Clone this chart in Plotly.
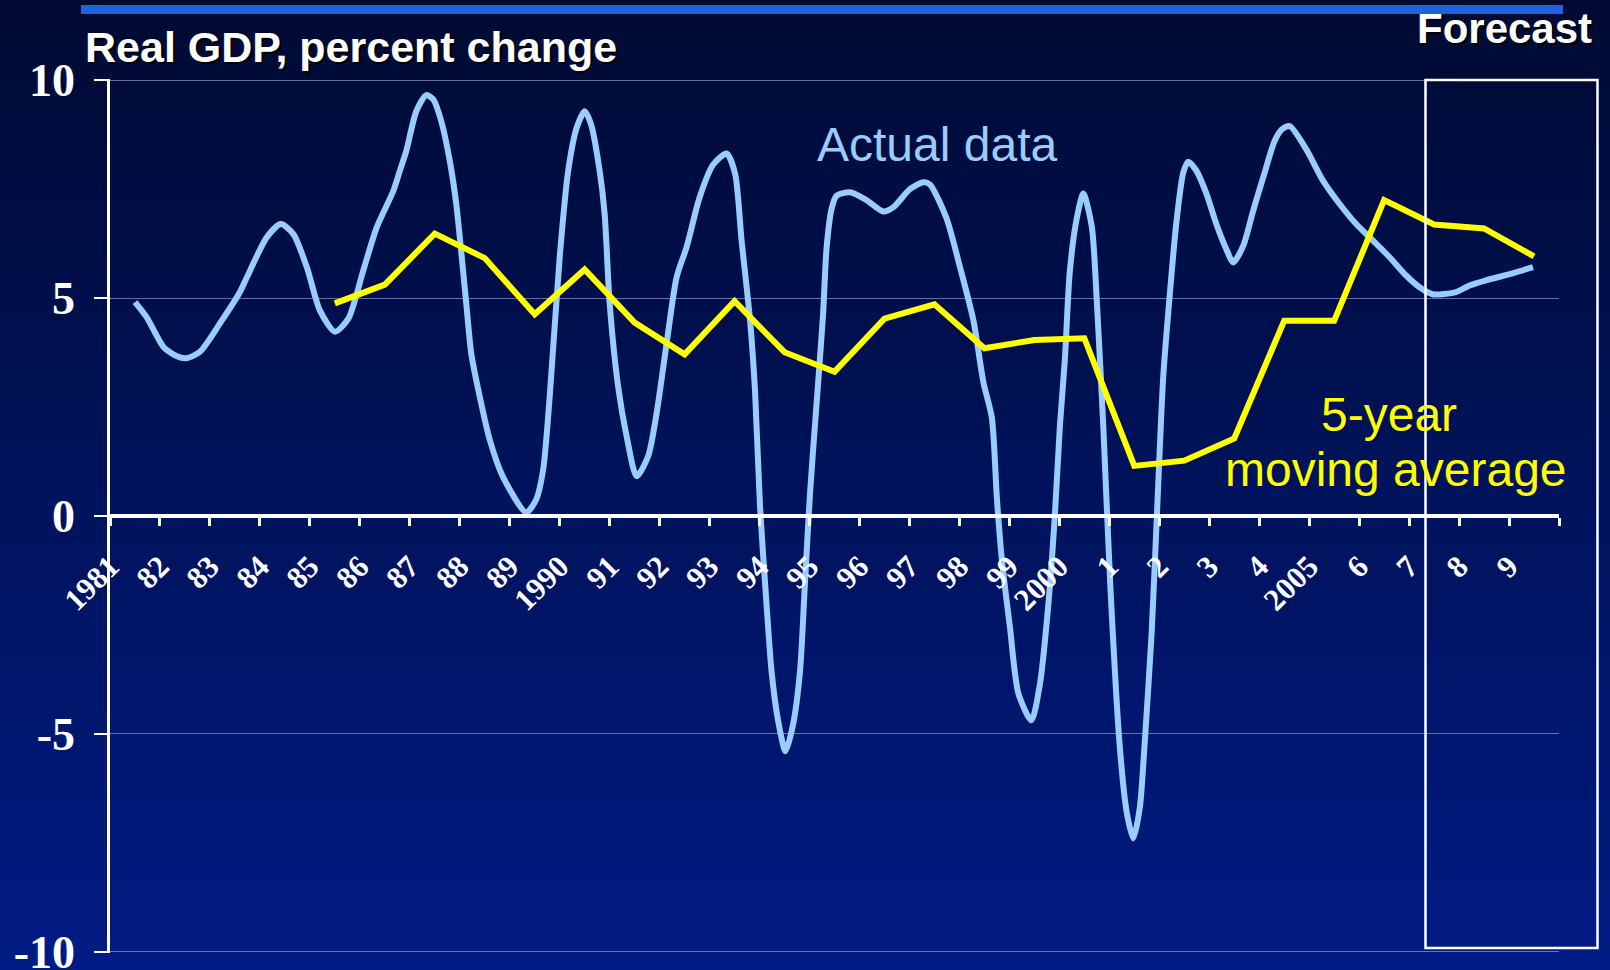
import plotly.graph_objects as go

# ---------------- data ----------------
tick_years = list(range(1981, 2011))
tick_labels = ["1981", "82", "83", "84", "85", "86", "87", "88", "89", "1990",
               "91", "92", "93", "94", "95", "96", "97", "98", "99", "2000",
               "1", "2", "3", "4", "2005", "6", "7", "8", "9", ""]

actual_x = [1981.50, 1981.73, 1982.07, 1982.33, 1982.53, 1982.80, 1983.20, 1983.60, 1983.74,
            1984.14, 1984.42, 1984.67, 1984.94, 1985.20, 1985.50, 1985.77, 1986.07, 1986.34,
            1986.67, 1986.80, 1986.93, 1987.13, 1987.33, 1987.47, 1987.63, 1987.80, 1987.93,
            1988.13, 1988.23, 1988.40, 1988.60, 1988.86, 1989.33, 1989.53, 1989.67, 1989.80,
            1990.00, 1990.17, 1990.34, 1990.50, 1990.63, 1990.80, 1990.90, 1991.00, 1991.17,
            1991.34, 1991.54, 1991.77, 1991.94, 1992.14, 1992.34, 1992.54, 1992.80, 1993.07,
            1993.34, 1993.51, 1993.64, 1993.81, 1993.91, 1994.01, 1994.14, 1994.24, 1994.37,
            1994.52, 1994.67, 1994.81, 1994.91, 1995.01, 1995.14, 1995.27, 1995.34, 1995.44,
            1995.54, 1995.81, 1996.14, 1996.48, 1996.68, 1997.01, 1997.28, 1997.41, 1997.74,
            1998.01, 1998.28, 1998.48, 1998.65, 1998.75, 1998.85, 1999.01, 1999.18, 1999.44,
            1999.61, 1999.78, 1999.91, 2000.01, 2000.11, 2000.21, 2000.35, 2000.48, 2000.65,
            2000.75, 2000.88, 2001.02, 2001.21, 2001.35, 2001.48, 2001.61, 2001.71, 2001.85,
            2001.95, 2002.08, 2002.21, 2002.34, 2002.48, 2002.58, 2002.74, 2002.94, 2003.14,
            2003.34, 2003.48, 2003.68, 2003.88, 2004.08, 2004.31, 2004.45, 2004.61, 2004.94,
            2005.28, 2005.61, 2005.94, 2006.28, 2006.61, 2006.94, 2007.21, 2007.47, 2007.94,
            2008.21, 2008.54, 2009.01, 2009.48]
actual_gdp = [4.91, 4.57, 3.88, 3.67, 3.62, 3.77, 4.42, 5.14, 5.48,
              6.40, 6.70, 6.47, 5.71, 4.72, 4.23, 4.53, 5.64, 6.63,
              7.46, 7.92, 8.38, 9.29, 9.66, 9.56, 9.06, 8.15, 7.16,
              4.88, 3.73, 2.74, 1.75, 0.91, 0.08, 0.38, 1.07, 2.74,
              5.94, 7.92, 8.91, 9.29, 8.98, 7.92, 6.93, 4.88, 2.97,
              1.83, 0.91, 1.37, 2.36, 3.96, 5.48, 6.17, 7.31, 8.06,
              8.32, 7.86, 6.33, 4.49, 2.86, 0.21, -2.03, -3.56, -4.69,
              -5.40, -4.79, -3.56, -1.52, 0.52, 2.56, 4.60, 6.13, 7.04,
              7.35, 7.43, 7.25, 6.99, 7.09, 7.50, 7.66, 7.61, 6.84,
              5.72, 4.49, 3.07, 2.25, 0.41, -1.01, -2.54, -4.07, -4.69,
              -3.87, -2.03, 0.01, 2.05, 3.58, 5.62, 6.84, 7.40, 6.64,
              4.93, 2.05, -1.60, -5.30, -6.81, -7.40, -6.70, -5.18, -2.62,
              -0.05, 3.21, 5.08, 6.71, 7.88, 8.13, 7.93, 7.41, 6.71,
              6.13, 5.82, 6.20, 7.01, 7.77, 8.61, 8.87, 8.95, 8.42,
              7.69, 7.16, 6.70, 6.32, 5.94, 5.52, 5.25, 5.09, 5.14,
              5.29, 5.41, 5.55, 5.71]

ma_years = list(range(1985, 2010))
ma_gdp = [4.88, 5.31, 6.48, 5.92, 4.63, 5.66, 4.44, 3.71, 4.93, 3.76,
          3.31, 4.53, 4.86, 3.85, 4.04, 4.08, 1.15, 1.27, 1.78, 4.48,
          4.48, 7.25, 6.69, 6.60, 5.96]
ma_x = [y + 0.5 for y in ma_years]

y_ticks = [-10, -5, 0, 5, 10]
y_labels = ["-10", "-5", "0", "5", "10"]

# ---------------- figure ----------------
W, H = 1610, 970
ML, MR, MT, MB = 110, 51, 79, 17
PW, PH = W - ML - MR, H - MT - MB


def px_x(p):
    return (p - ML) / PW


def px_y(p):
    return (H - MB - p) / PH


fig = go.Figure()

fig.add_trace(go.Scatter(x=actual_x, y=actual_gdp, mode="lines",
                         line=dict(color="#99CCFF", width=6, shape="spline", smoothing=0.7),
                         hoverinfo="skip", showlegend=False))
fig.add_trace(go.Scatter(x=ma_x, y=ma_gdp, mode="lines",
                         line=dict(color="#FFFF00", width=6),
                         hoverinfo="skip", showlegend=False))

shapes = []
# background gradient bands
nb = 97
top_c = (0, 10, 50)
bot_c = (0, 27, 132)
for i in range(nb):
    t = (i + 0.5) / nb
    c = tuple(int(round(top_c[k] + (bot_c[k] - top_c[k]) * t)) for k in range(3))
    y_top = i * H / nb
    y_bot = (i + 1) * H / nb + 1
    shapes.append(dict(type="rect", xref="paper", yref="paper",
                       x0=px_x(0), x1=px_x(W), y0=px_y(y_bot), y1=px_y(y_top),
                       fillcolor="rgb(%d,%d,%d)" % c, line=dict(width=0), layer="below"))
# top blue bar
shapes.append(dict(type="rect", xref="paper", yref="paper",
                   x0=px_x(81), x1=px_x(1563), y0=px_y(14), y1=px_y(5),
                   fillcolor="rgb(35,95,225)", line=dict(width=0), layer="above"))
# forecast box
shapes.append(dict(type="rect", xref="paper", yref="paper",
                   x0=px_x(1425.5), x1=px_x(1597.5), y0=px_y(948), y1=px_y(80),
                   fillcolor="rgba(0,0,0,0)", line=dict(color="white", width=2.5), layer="above"))

annotations = []


def shadow_text(text, x, y, size, xanchor):
    annotations.append(dict(text=text, x=x, y=y, xref="paper", yref="paper",
                            xanchor=xanchor, yanchor="middle", showarrow=False,
                            xshift=2, yshift=-2,
                            font=dict(family="Liberation Sans, Arial", size=size,
                                      color="black", weight="bold")))
    annotations.append(dict(text=text, x=x, y=y, xref="paper", yref="paper",
                            xanchor=xanchor, yanchor="middle", showarrow=False,
                            font=dict(family="Liberation Sans, Arial", size=size,
                                      color="white", weight="bold")))


shadow_text("Real GDP, percent change", px_x(83), px_y(46.7), 43, "left")
shadow_text("Forecast", px_x(1594), px_y(28), 42, "right")

annotations.append(dict(text="Actual data", x=px_x(815), y=px_y(144.5), xref="paper", yref="paper",
                        xanchor="left", yanchor="middle", showarrow=False,
                        font=dict(family="Liberation Sans, Arial", size=48, color="#99CCFF")))
annotations.append(dict(text="5-year", x=px_x(1389), y=px_y(414), xref="paper", yref="paper",
                        xanchor="center", yanchor="middle", showarrow=False,
                        font=dict(family="Liberation Sans, Arial", size=48, color="#FFFF00")))
annotations.append(dict(text="moving average", x=px_x(1395.5), y=px_y(469.5), xref="paper", yref="paper",
                        xanchor="center", yanchor="middle", showarrow=False,
                        font=dict(family="Liberation Sans, Arial", size=48, color="#FFFF00")))

fig.update_layout(
    width=W, height=H,
    margin=dict(l=ML, r=MR, t=MT, b=MB, pad=0, autoexpand=False),
    paper_bgcolor="rgb(0,18,90)",
    plot_bgcolor="rgba(0,0,0,0)",
    shapes=shapes,
    annotations=annotations,
    showlegend=False,
    xaxis=dict(range=[1981, 2010], anchor="free", position=0.5, automargin=False,
               showline=True, linecolor="white", linewidth=4,
               showgrid=False, zeroline=False,
               tickmode="array", tickvals=tick_years, ticktext=tick_labels,
               ticks="outside", ticklen=8, tickwidth=3, tickcolor="white",
               tickangle=-45, ticklabelshift=0, ticklabelstandoff=10,
               tickfont=dict(family="Liberation Serif, Times New Roman", size=31,
                             color="white", weight="bold")),
    yaxis=dict(range=[-10.03, 10.03], automargin=False,
               showline=True, linecolor="white", linewidth=2.5,
               tickmode="array", tickvals=y_ticks, ticktext=y_labels,
               ticks="outside", ticklen=13, tickwidth=2, tickcolor="white",
               ticklabelstandoff=10, ticklabeloverflow="allow",
               showgrid=True, gridcolor="rgba(190,190,215,0.55)", gridwidth=1,
               zeroline=False,
               tickfont=dict(family="Liberation Serif, Times New Roman", size=46,
                             color="white", weight="bold")),
)

fig.write_html("out.html",
               config={"displayModeBar": False},
               post_script="document.body.style.margin='0px';document.body.style.padding='0px';"
                           "document.body.style.overflow='hidden';")
